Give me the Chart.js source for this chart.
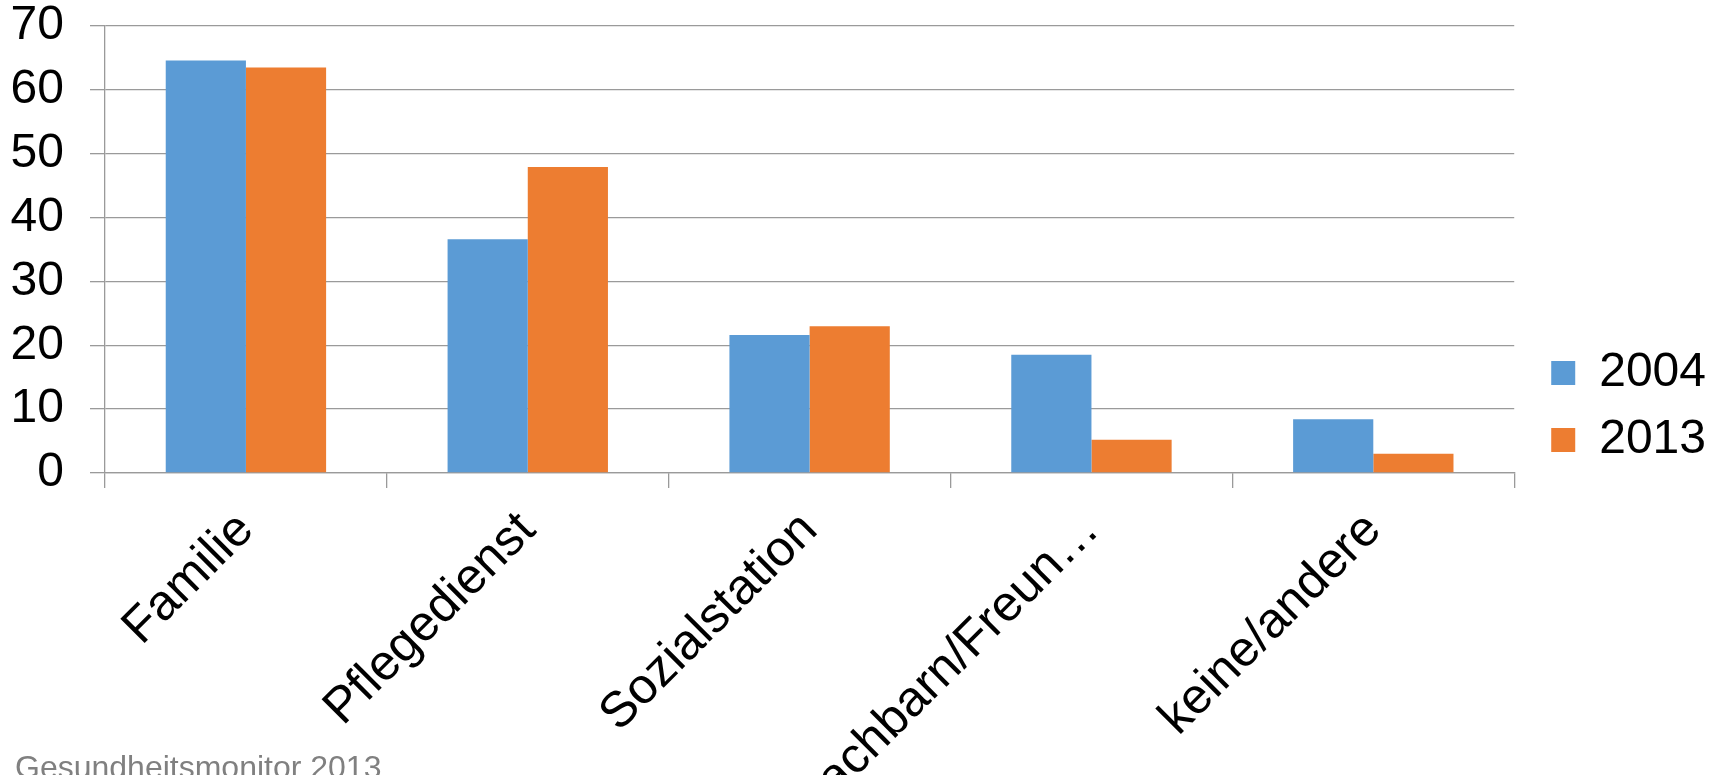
<!DOCTYPE html>
<html>
<head>
<meta charset="utf-8">
<script src="https://cdn.jsdelivr.net/npm/chart.js@4/dist/chart.umd.min.js"></script>
<style>
  html, body { margin: 0; padding: 0; background: #fff; }
  #wrap { position: relative; width: 1714px; height: 775px; overflow: hidden; }
  #source {
    position: absolute; left: 15px; top: 751px;
    font: 32px "Liberation Sans", Arial, sans-serif; line-height: 32px;
    color: #808080; white-space: nowrap;
  }
</style>
</head>
<body>
<div id="wrap">
  <canvas id="chart" width="1714" height="775"></canvas>
  <div id="source">Gesundheitsmonitor 2013</div>
</div>
<script>
// categories + values
const categories = ['Familie', 'Pflegedienst', 'Sozialstation', 'Nachbarn/Freun…', 'keine/andere'];
const years = ['2004', '2013'];
const values2004 = [64.6, 36.6, 21.6, 18.5, 8.4];
const values2013 = [63.5, 47.9, 23.0, 5.2, 3.0];
const yTicks = [0, 10, 20, 30, 40, 50, 60, 70];

const FONT = '"Liberation Sans", Arial, sans-serif';
const GRID = '#9a9a9a';

// nudge the legend into place (Excel puts it lower/further right than chart.js)
const legendShift = {
  id: 'legendShift',
  afterLayout(chart) {
    const l = chart.legend;
    if (!l) return;
    l.left += 18; l.right += 18;
    l.top += 19; l.bottom += 19;
  }
};

new Chart(document.getElementById('chart'), {
  type: 'bar',
  data: {
    labels: categories,
    datasets: [
      { label: years[0], data: values2004, backgroundColor: '#5B9BD5' },
      { label: years[1], data: values2013, backgroundColor: '#ED7D31' }
    ]
  },
  options: {
    responsive: false,
    animation: false,
    layout: { padding: { left: 0, top: 0, bottom: 0, right: 16 } },
    datasets: {
      bar: { categoryPercentage: 0.569, barPercentage: 1.0 }
    },
    plugins: {
      tooltip: { enabled: false },
      legend: {
        position: 'right',
        labels: {
          boxWidth: 24, boxHeight: 24, padding: 19,
          color: '#000',
          font: { family: FONT, size: 48 }
        }
      }
    },
    scales: {
      x: {
        afterFit: (s) => { s.height = 302; },
        grid: {
          drawOnChartArea: false, drawTicks: true, tickLength: 15,
          color: GRID, lineWidth: 1.3, offset: true
        },
        border: { color: GRID, width: 1.3 },
        ticks: {
          autoSkip: false, minRotation: 45, maxRotation: 45, padding: 13,
          color: '#000',
          font: { family: FONT, size: 50 }
        }
      },
      y: {
        min: 0, max: 70,
        afterFit: (s) => { s.width = 105; s.paddingTop = 26; s.paddingBottom = 26; },
        afterBuildTicks: (s) => { s.ticks = yTicks.map(v => ({ value: v })); },
        grid: { color: GRID, lineWidth: 1.3, tickLength: 15 },
        border: { color: GRID, width: 1.3 },
        ticks: {
          padding: 26, color: '#000',
          font: { family: FONT, size: 48, lineHeight: 1.07 }
        }
      }
    }
  },
  plugins: [legendShift]
});
</script>
</body>
</html>
